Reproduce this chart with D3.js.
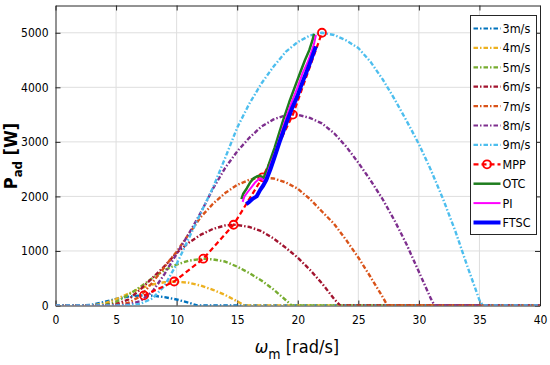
<!DOCTYPE html>
<html>
<head>
<meta charset="utf-8">
<script src="https://cdn.jsdelivr.net/npm/d3@7"></script>
<style>
  body { margin: 0; background: #fff; }
  text { font-family: "DejaVu Sans Condensed", "DejaVu Sans", sans-serif; font-stretch: condensed; fill: #000; }
</style>
</head>
<body>
<svg id="chart" width="550" height="365"></svg>
<script>
var width = 550, height = 365

// wind speed curves, [omega, power]
var v3 = [[0,0],[1.5,0],[2,1],[3,13],[4,63],[5,121],[6,162],[7,183],[7.3,185],[8,180],[9,154],[10,110],[11,51],[11.7,0],[40,0]]
var v4 = [[0,0],[2,0],[3,2],[4,32],[5,118],[6,213],[7,315],[8,385],[9,427],[9.8,439],[11,418],[12,364],[13,288],[14,194],[15,77],[15.6,0],[40,0]]
var v5 = [[0,0],[3,0],[4,9],[5,62],[6,195],[7,339],[8,502],[9,648],[10,751],[11,822],[12.2,858],[13,845],[14,806],[15,712],[16,594],[17,458],[18,295],[19,101],[19.5,0],[40,0]]
var v6 = [[0,0],[3.5,0],[4,2],[5,24],[6,107],[7,295],[8,504],[9,720],[10,966],[11,1151],[12,1298],[13,1404],[14,1467],[14.7,1481],[15,1476],[16,1440],[17,1363],[18,1230],[19,1061],[20,877],[21,656],[22,406],[23,121],[23.5,0],[40,0]]
var v7 = [[0,0],[4,0],[5,10],[6,47],[7,169],[8,419],[9,706],[10,986],[11,1308],[12,1623],[13,1865],[14,2061],[15,2211],[16,2305],[17,2350],[18,2329],[19,2258],[20,2141],[21,1953],[22,1724],[23,1496],[24,1200],[25,880],[26,527],[27,160],[27.4,0],[40,0]]
var v8 = [[0,0],[4.5,0],[6,17],[7,81],[8,253],[9,576],[10,948],[11,1313],[12,1706],[13,2141],[14,2520],[15,2826],[16,3075],[17,3280],[18,3412],[19,3489],[19.6,3510],[20,3496],[21,3440],[22,3338],[23,3159],[24,2913],[25,2618],[26,2299],[27,1952],[28,1555],[29,1113],[30,618],[31,120],[31.3,0],[40,0]]
var v9 = [[0,0],[5,0],[6,5],[7,30],[8,130],[9,360],[10,760],[11,1230],[12,1700],[13,2160],[14,2700],[15,3260],[16,3700],[17,4070],[18,4380],[19,4650],[20,4830],[21,4950],[22,5000],[23,4960],[24,4860],[25,4720],[26,4470],[27,4150],[28,3780],[29,3380],[30,2960],[31,2480],[32,1950],[33,1370],[34,720],[35,100],[35.3,0],[40,0]]

var mpp = [[7.3,185],[9.8,440],[12.2,858],[14.7,1480],[17.1,2350],[19.6,3500],[22.0,5000]]

var otc = [[15.35,1950],[15.5,2050],[15.8,2150],[16.05,2250],[16.35,2330],[16.65,2370],[16.9,2380],[17.15,2330],[17.4,2450],[17.75,2680],[18.1,2900],[18.45,3150],[18.8,3400],[19.3,3730],[19.8,4030],[20.25,4300],[20.6,4500],[20.95,4680],[21.2,4850],[21.35,4980]]
var pi = [[15.45,1900],[15.6,2000],[15.9,2090],[16.2,2175],[16.5,2260],[16.8,2320],[17.0,2330],[17.25,2270],[17.45,2390],[17.8,2620],[18.2,2850],[18.55,3100],[18.9,3350],[19.45,3700],[19.95,3980],[20.4,4260],[20.8,4450],[21.1,4630],[21.35,4800],[21.5,4960]]
var ftsc = [[15.75,1860],[16.0,1900],[16.3,1960],[16.6,2000],[16.9,2120],[17.15,2200],[17.4,2300],[17.75,2500],[18.1,2730],[18.55,3030],[19.05,3340],[19.5,3600],[19.95,3830],[20.4,4100],[20.9,4380],[21.25,4600],[21.5,4750]]

var xTicks = [0,5,10,15,20,25,30,35,40]
var yTicks = [0,1000,2000,3000,4000,5000]

var series = [
  {name: "3m/s", data: v3, color: "#0072BD", type: "dashdot"},
  {name: "4m/s", data: v4, color: "#EDB120", type: "dashdot"},
  {name: "5m/s", data: v5, color: "#77AC30", type: "dashdot"},
  {name: "6m/s", data: v6, color: "#A2142F", type: "dashdot"},
  {name: "7m/s", data: v7, color: "#D95319", type: "dashdot"},
  {name: "8m/s", data: v8, color: "#7E2F8E", type: "dashdot"},
  {name: "9m/s", data: v9, color: "#4DBEEE", type: "dashdot"},
  {name: "MPP", data: mpp, color: "#FF0000", type: "mpp"},
  {name: "OTC", data: otc, color: "#1E7D1E", type: "solid", w: 2.5},
  {name: "PI", data: pi, color: "#FF00FF", type: "solid", w: 2},
  {name: "FTSC", data: ftsc, color: "#0000FF", type: "solid", w: 4}
]

var margin = {left: 55.5, right: 10, top: 5.5, bottom: 59.5}
var pw = width - margin.left - margin.right
var ph = height - margin.top - margin.bottom

var x = d3.scaleLinear().domain([0, 40]).range([0, pw])
var y = d3.scaleLinear().domain([0, 5500]).range([ph, 0])

var svg = d3.select('#chart')
var g = svg.append('g').attr('transform', 'translate(' + margin.left + ',' + margin.top + ')')

g.append('clipPath').attr('id', 'clip')
  .append('rect').attr('width', pw).attr('height', ph)

// grid
g.append('g').selectAll('line.gx')
  .data(xTicks.slice(1, -1))
  .enter().append('line')
  .attr('x1', d => x(d)).attr('x2', d => x(d))
  .attr('y1', 0).attr('y2', ph)
  .attr('stroke', '#dedede').attr('stroke-width', 1)
g.append('g').selectAll('line.gy')
  .data(yTicks.slice(1))
  .enter().append('line')
  .attr('x1', 0).attr('x2', pw)
  .attr('y1', d => y(d)).attr('y2', d => y(d))
  .attr('stroke', '#dedede').attr('stroke-width', 1)

// axes, ticks inside on all four sides
var fmt = d3.format('d')
var axB = d3.axisBottom(x).tickValues(xTicks).tickFormat(fmt).tickSizeInner(-5).tickSizeOuter(0).tickPadding(10)
var axL = d3.axisLeft(y).tickValues(yTicks).tickFormat(fmt).tickSizeInner(-5).tickSizeOuter(0).tickPadding(7)
var axT = d3.axisTop(x).tickValues(xTicks).tickSizeInner(-5).tickSizeOuter(0).tickFormat('')
var axR = d3.axisRight(y).tickValues(yTicks).tickSizeInner(-5).tickSizeOuter(0).tickFormat('')

function styleAxis(sel) {
  sel.selectAll('path, line').attr('stroke', '#262626').attr('stroke-width', 1)
  sel.selectAll('text').attr('font-size', 12).attr('fill', '#1a1a1a')
    .style('font-family', '"DejaVu Sans Condensed", "DejaVu Sans", sans-serif')
}

g.append('g').attr('transform', 'translate(0,' + ph + ')').call(axB).call(styleAxis)
g.append('g').call(axL).call(styleAxis)
g.append('g').call(axT).call(styleAxis)
g.append('g').attr('transform', 'translate(' + pw + ',0)').call(axR).call(styleAxis)

// curves
var line = d3.line().x(d => x(d[0])).y(d => y(d[1]))
var plot = g.append('g').attr('clip-path', 'url(#clip)')

series.forEach(s => {
  var p = plot.append('path')
    .datum(s.data)
    .attr('d', line)
    .attr('fill', 'none')
    .attr('stroke', s.color)
    .attr('stroke-linejoin', 'round')
  if (s.type == "dashdot") {
    p.attr('stroke-width', 2.4).attr('stroke-dasharray', '4.5,2,1.5,2')
  } else if (s.type == "mpp") {
    p.attr('stroke-width', 2.2).attr('stroke-dasharray', '5,3')
    plot.selectAll('circle.mpp')
      .data(s.data)
      .enter().append('circle')
      .attr('class', 'mpp')
      .attr('cx', d => x(d[0]))
      .attr('cy', d => y(d[1]))
      .attr('r', 4)
      .attr('fill', 'none')
      .attr('stroke', s.color)
      .attr('stroke-width', 1.8)
  } else {
    p.attr('stroke-width', s.w)
  }
})

// legend
var lg = svg.append('g').attr('transform', 'translate(470.5,15.5)')
lg.append('rect').attr('width', 66).attr('height', 219)
  .attr('fill', '#fff').attr('stroke', '#262626').attr('stroke-width', 1)

var item = lg.selectAll('g.item')
  .data(series)
  .enter().append('g')
  .attr('transform', (d, i) => 'translate(0,' + (13 + i * 19.4) + ')')

item.append('line')
  .attr('x1', 3).attr('x2', 30)
  .attr('y1', 0).attr('y2', 0)
  .attr('stroke', d => d.color)
  .attr('stroke-width', d => d.w ? d.w : 2.2)
  .attr('stroke-dasharray', d => d.type == "dashdot" ? '4.5,2,1.5,2' : (d.type == "mpp" ? '5,3' : null))
item.filter(d => d.type == "mpp").append('circle')
  .attr('cx', 16.5).attr('cy', 0).attr('r', 4)
  .attr('fill', 'none').attr('stroke', d => d.color).attr('stroke-width', 1.8)
item.append('text')
  .attr('x', 32).attr('y', 4.5)
  .attr('font-size', 12.5)
  .text(d => d.name)

// axis labels
var xl = svg.append('text')
  .attr('x', 297).attr('y', 353)
  .attr('text-anchor', 'middle')
  .attr('font-size', 18)
xl.append('tspan').text('ω').attr('font-style', 'italic')
xl.append('tspan').text('m').attr('font-size', 14).attr('dy', 6)
xl.append('tspan').text(' [rad/s]').attr('dy', -6)

var yl = svg.append('text')
  .attr('transform', 'translate(17,156) rotate(-90)')
  .attr('text-anchor', 'middle')
  .attr('font-size', 18)
  .attr('font-weight', 'bold')
yl.append('tspan').text('P')
yl.append('tspan').text('ad').attr('font-size', 13).attr('dy', 5)
yl.append('tspan').text(' [W]').attr('dy', -5)
</script>
</body>
</html>
